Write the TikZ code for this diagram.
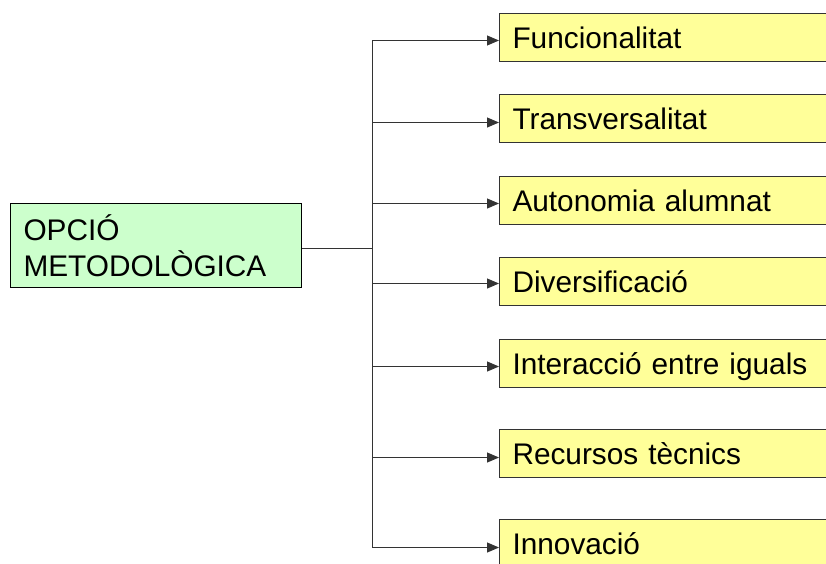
\documentclass[tikz,border=0pt]{standalone}
\usepackage{fontspec}
\setmainfont{Liberation Sans}
\usetikzlibrary{arrows.meta,calc}
\definecolor{boxgreen}{HTML}{CCFFCC}
\definecolor{boxyellow}{HTML}{FFFF99}
\definecolor{edgegray}{HTML}{333333}
\begin{document}
\begin{tikzpicture}[x=1pt,y=-1pt,
  font=\fontsize{29.8}{36}\selectfont,
  leftbox/.style={draw=black,line width=1pt,fill=boxgreen,anchor=north west,
    minimum width=291pt,minimum height=84pt,inner xsep=13pt,inner ysep=0pt,
    text width=265pt,align=left},
  itembox/.style={draw=edgegray,line width=1pt,fill=boxyellow,anchor=north west,
    minimum width=360pt,minimum height=48pt,inner xsep=13pt,inner ysep=0pt,
    text width=334pt,align=left,text height=22pt,text depth=0pt},
  conn/.style={draw=edgegray,line width=1pt},
  arr/.style={conn,-{Triangle[length=12pt,width=10pt]}}]
\useasboundingbox (0,0) rectangle (826,563);
\node[leftbox] (a) at (10,203) {OPCIÓ\\METODOLÒGICA};
\node[itembox] (b1) at (499,13) {Funcionalitat};
\node[itembox] (b2) at (499,94) {Transversalitat};
\node[itembox] (b3) at (499,176) {Autonomia alumnat};
\node[itembox] (b4) at (499,257) {Diversificació};
\node[itembox] (b5) at (499,339) {Interacció entre iguals};
\node[itembox] (b6) at (499,429) {Recursos tècnics};
\node[itembox] (b7) at (499,519) {Innovació};
\coordinate (tx) at (372,0);
\coordinate (top) at ([yshift=-3pt]b1.west -| tx);
\coordinate (bot) at ([yshift=-4pt]b7.west -| tx);
\coordinate (mid) at ([yshift=-3pt]a.east -| tx);
\draw[conn] (top) -- (bot);
\draw[conn] ([yshift=-3pt]a.east) -- (mid);
\foreach \b/\s in {b1/3,b2/4,b3/3,b4/2,b5/3,b6/4,b7/4}{
  \draw[arr] ([yshift=-\s pt]\b.west -| tx) -- ([yshift=-\s pt]\b.west);
}
\end{tikzpicture}
\end{document}
